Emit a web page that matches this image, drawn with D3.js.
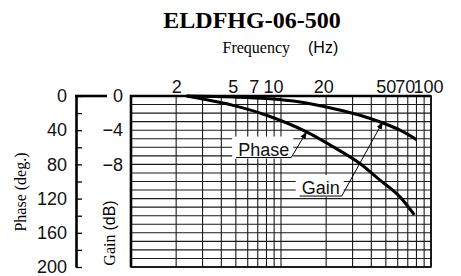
<!DOCTYPE html>
<html>
<head>
<meta charset="utf-8">
<script src="https://cdn.jsdelivr.net/npm/d3@7"></script>
<style>
  body { margin: 0; background: #fff; }
  svg { display: block; }
  .sans { font-family: "Liberation Sans", Arial, sans-serif; }
  .serif { font-family: "Liberation Serif", "Times New Roman", serif; }
</style>
</head>
<body>
<script>
// values
var gridFreqs = [1, 2, 3, 4, 5, 6, 7, 8, 9, 10, 20, 30, 40, 50, 60, 70, 80, 90, 100];
var freqLabels = [2, 5, 7, 10, 20, 50, 70, 100];
var phaseTicks = [0, 20, 40, 60, 80, 100, 120, 140, 160, 180, 200];
var gainTicks = [0, -4, -8];

var gainFreq = [2.35, 4.8, 8, 13.4, 22.2, 33.6, 46.9, 62.1, 80];
var gainDb = [0, -0.12, -0.3, -0.7, -1.47, -2.25, -3.1, -4.0, -5.1];

var phaseFreq = [2.35, 2.9, 4.8, 8, 14.8, 22.3, 33.6, 45.7, 62.1, 77.5];
var phaseDeg = [0, 3, 11, 22.5, 42, 59.5, 79, 98.4, 118, 139];

// callouts: underline end (freq, dB) and arrow tip on the curve
var noteNames = ["Phase", "Gain"];
var noteFreq = [11.7, 25.4];
var noteDb = [-7.2, -11.7];
var tipFreq = [14.8, 47.6];
var tipVal = [42, -3.05];

var width = 461, height = 276;
var pLeft = 131, pRight = 431, pTop = 96, pBottom = 267;

var svg = d3.select("body").append("svg")
    .attr("width", width)
    .attr("height", height);

var x = d3.scaleLog().domain([1, 100]).range([pLeft, pRight]);
var yGain = d3.scaleLinear().domain([0, -20]).range([pTop, pBottom]);
var yPhase = d3.scaleLinear().domain([0, 200]).range([pTop, pBottom]);

// titles
svg.append("text")
    .attr("class", "serif")
    .attr("x", 252).attr("y", 28)
    .attr("text-anchor", "middle")
    .style("font-size", "24px").style("font-weight", "bold")
    .text("ELDFHG-06-500");

var sub = svg.append("text").attr("y", 53).style("font-size", "16px");
sub.append("tspan").attr("class", "serif").attr("x", 222.5).text("Frequency");
sub.append("tspan").attr("class", "sans").attr("x", 308).text("(Hz)");

// grid
var g = svg.append("g");
g.selectAll("line.v")
  .data(gridFreqs)
  .enter().append("line")
    .attr("class", "v")
    .attr("x1", function(d) { return x(d); })
    .attr("x2", function(d) { return x(d); })
    .attr("y1", pTop).attr("y2", pBottom)
    .attr("stroke", "#1a1a1a").attr("stroke-width", 1.1);

g.selectAll("line.h")
  .data(d3.range(0, -21, -1))
  .enter().append("line")
    .attr("class", "h")
    .attr("x1", pLeft).attr("x2", pRight)
    .attr("y1", function(d) { return yGain(d); })
    .attr("y2", function(d) { return yGain(d); })
    .attr("stroke", "#1a1a1a").attr("stroke-width", 1.1);

// frame
g.append("rect")
    .attr("x", pLeft).attr("y", pTop)
    .attr("width", pRight - pLeft).attr("height", pBottom - pTop)
    .attr("fill", "none").attr("stroke", "#000").attr("stroke-width", 1.6);
g.append("path")
    .attr("d", "M" + pLeft + "," + pBottom + "V" + pTop + "H" + pRight)
    .attr("fill", "none").attr("stroke", "#000").attr("stroke-width", 2.6);

// top frequency labels
var nudge = {5: -3, 7: -4, 10: -8, 20: -3, 70: -3, 100: -3};
var topAxis = svg.append("g")
    .attr("transform", "translate(0," + pTop + ")")
    .call(d3.axisTop(x).tickValues(freqLabels).tickSize(0).tickPadding(3)
      .tickFormat(d3.format("d")));
topAxis.select(".domain").remove();
topAxis.selectAll("text")
    .attr("class", "sans")
    .attr("dx", function(d) { return nudge[d] || 0; })
    .style("font-size", "18px").attr("fill", "#111");

// phase axis
var phaseAxis = svg.append("g")
    .attr("transform", "translate(76,0)")
    .call(d3.axisLeft(yPhase).tickValues(phaseTicks)
      .tickSizeInner(-6).tickSizeOuter(0).tickPadding(9)
      .tickFormat(function(d) { return d % 40 === 0 ? d : ""; }));
phaseAxis.select(".domain").attr("stroke-width", 2.6);
phaseAxis.selectAll(".tick line").attr("stroke-width", 1.3);
phaseAxis.selectAll("text")
    .attr("class", "sans")
    .style("font-size", "18px").attr("fill", "#111");
svg.append("line")
    .attr("x1", 75).attr("x2", 107)
    .attr("y1", yPhase(0)).attr("y2", yPhase(0))
    .attr("stroke", "#000").attr("stroke-width", 2.6);

// gain labels
var gainAxis = svg.append("g")
    .attr("transform", "translate(" + (pLeft - 8) + ",0)")
    .call(d3.axisLeft(yGain).tickValues(gainTicks).tickSize(0).tickPadding(0));
gainAxis.select(".domain").remove();
gainAxis.selectAll("text")
    .attr("class", "sans")
    .style("font-size", "18px").attr("fill", "#111");

// axis titles
svg.append("text")
    .attr("class", "serif")
    .attr("transform", "translate(26,192) rotate(-90)")
    .attr("text-anchor", "middle")
    .style("font-size", "16px")
    .text("Phase (deg.)");

var gt = svg.append("text")
    .attr("transform", "translate(115,233) rotate(-90)")
    .attr("text-anchor", "middle")
    .style("font-size", "16px");
gt.append("tspan").attr("class", "serif").text("Gain ");
gt.append("tspan").attr("class", "sans").text("(dB)");

// curves
var gainPts = gainFreq.map(function(f, i) { return [x(f), yGain(gainDb[i])]; });
var phasePts = phaseFreq.map(function(f, i) { return [x(f), yPhase(phaseDeg[i])]; });
var line = d3.line().curve(d3.curveMonotoneX);

svg.append("path").attr("d", line(gainPts))
    .attr("fill", "none").attr("stroke", "#000").attr("stroke-width", 3);
svg.append("path").attr("d", line(phasePts))
    .attr("fill", "none").attr("stroke", "#000").attr("stroke-width", 3);

// callouts
svg.append("defs").append("marker")
    .attr("id", "arrow")
    .attr("viewBox", "0 0 10 10")
    .attr("refX", 9).attr("refY", 5)
    .attr("markerWidth", 8).attr("markerHeight", 8)
    .attr("markerUnits", "userSpaceOnUse")
    .attr("orient", "auto")
  .append("path")
    .attr("d", "M0,1.5L10,5L0,8.5Z")
    .attr("fill", "#000");

noteNames.forEach(function(name, i) {
  var ax = x(noteFreq[i]), ay = yGain(noteDb[i]);
  var tx = x(tipFreq[i]);
  var ty = i === 0 ? yPhase(tipVal[i]) : yGain(tipVal[i]);
  var box = svg.append("rect").attr("fill", "#fff");
  var t = svg.append("text")
      .attr("class", "sans")
      .attr("x", ax - 2).attr("y", ay - 2)
      .attr("text-anchor", "end")
      .style("font-size", "18px").attr("fill", "#111")
      .text(name);
  var w = t.node().getComputedTextLength();
  box.attr("x", ax - w - 8).attr("y", ay - 21)
     .attr("width", w + 10).attr("height", 22);
  svg.append("line")
      .attr("x1", ax - w - 4).attr("x2", ax)
      .attr("y1", ay).attr("y2", ay)
      .attr("stroke", "#000").attr("stroke-width", 1);
  svg.append("line")
      .attr("x1", ax).attr("y1", ay)
      .attr("x2", tx).attr("y2", ty)
      .attr("stroke", "#000").attr("stroke-width", 1)
      .attr("marker-end", "url(#arrow)");
});
</script>
</body>
</html>
